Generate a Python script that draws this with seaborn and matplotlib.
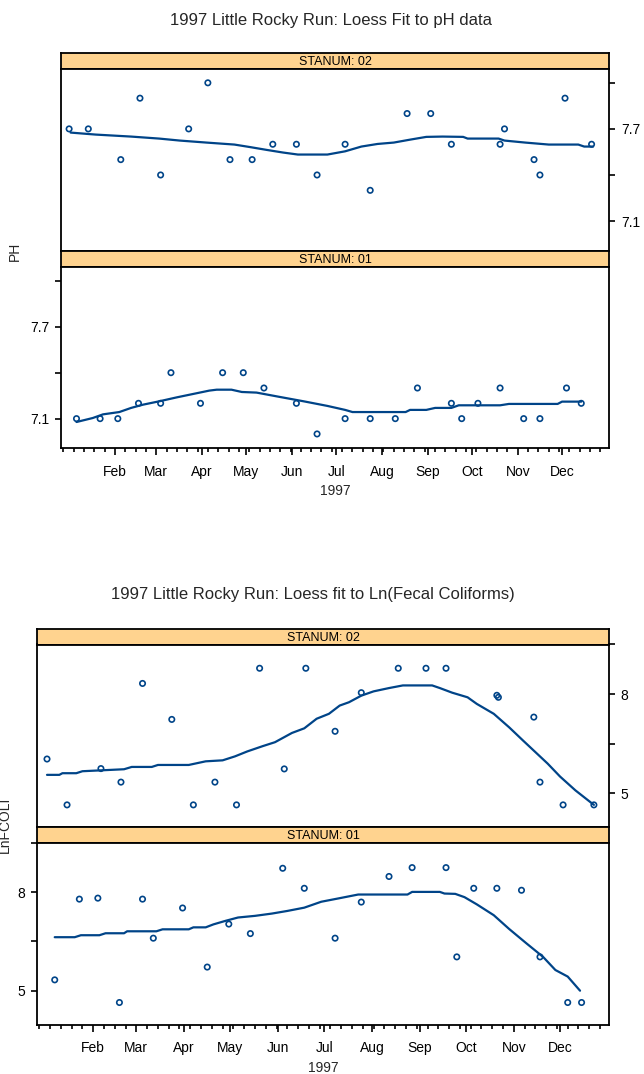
import numpy as np
import pandas as pd
import matplotlib
matplotlib.use("Agg")
import matplotlib.pyplot as plt
import matplotlib.dates as mdates
import seaborn as sns

# ---------------- data (day of year 1997, 0 = Jan 1) ----------------
ph02_day = [0, 13, 35, 48, 62, 81, 94, 109, 124, 138, 154, 168, 187, 204, 229, 245, 259, 292, 295, 315, 319, 336, 354]
ph02_val = [7.7, 7.7, 7.5, 7.9, 7.4, 7.7, 8.0, 7.5, 7.5, 7.6, 7.6, 7.4, 7.6, 7.3, 7.8, 7.8, 7.6, 7.6, 7.7, 7.5, 7.4, 7.9, 7.6]
ph02_fit_day = [1, 18, 42, 61, 75, 93, 112, 123, 134, 145, 155, 175, 187, 198, 209, 220, 231, 242, 253, 267, 270, 291, 295, 309, 325, 345, 349, 355]
ph02_fit_val = [7.676, 7.663, 7.650, 7.637, 7.624, 7.611, 7.598, 7.581, 7.563, 7.546, 7.533, 7.533, 7.554, 7.585, 7.602,
                7.611, 7.630, 7.648, 7.650, 7.648, 7.637, 7.637, 7.624, 7.611, 7.598, 7.598, 7.585, 7.585]

ph01_day = [5, 21, 33, 47, 62, 69, 89, 104, 118, 132, 154, 168, 187, 204, 221, 236, 259, 266, 277, 292, 308, 319, 337, 347]
ph01_val = [7.1, 7.1, 7.1, 7.2, 7.2, 7.4, 7.2, 7.4, 7.4, 7.3, 7.2, 7.0, 7.1, 7.1, 7.1, 7.3, 7.2, 7.1, 7.2, 7.3, 7.1, 7.1, 7.3, 7.2]
ph01_fit_day = [5, 16, 23, 34, 42, 50, 61, 73, 84, 95, 100, 110, 117, 127, 142, 159, 175, 187, 192, 228, 231, 242, 248,
                259, 264, 292, 298, 331, 334, 347]
ph01_fit_val = [7.078, 7.104, 7.128, 7.143, 7.170, 7.191, 7.213, 7.239, 7.261, 7.283, 7.289, 7.289, 7.274, 7.270, 7.243,
                7.213, 7.183, 7.157, 7.143, 7.143, 7.157, 7.157, 7.170, 7.170, 7.187, 7.187, 7.196, 7.196, 7.211, 7.211]

fc02_day = [1, 14, 36, 49, 63, 82, 96, 110, 124, 139, 155, 169, 188, 205, 229, 247, 260, 293, 294, 317, 321, 336, 356]
fc02_val = [6.03, 4.64, 5.74, 5.33, 8.32, 7.23, 4.64, 5.33, 4.64, 8.78, 5.73, 8.78, 6.87, 8.04, 8.78, 8.78, 8.78,
            7.96, 7.90, 7.30, 5.33, 4.64, 4.64]
fc02_fit_day = [1, 9, 11, 20, 24, 51, 56, 69, 73, 93, 104, 115, 123, 131, 141, 149, 160, 168, 176, 184, 191, 197, 205,
                213, 223, 232, 251, 256, 264, 274, 280, 291, 301, 310, 318, 326, 334, 344, 356]
fc02_fit_val = [5.55, 5.55, 5.60, 5.60, 5.66, 5.72, 5.79, 5.79, 5.85, 5.85, 5.96, 5.99, 6.11, 6.26, 6.42, 6.54, 6.82,
                6.96, 7.25, 7.40, 7.65, 7.75, 7.95, 8.08, 8.18, 8.26, 8.26, 8.18, 8.04, 7.90, 7.70, 7.40, 6.99, 6.59,
                6.24, 5.89, 5.50, 5.08, 4.64]

fc01_day = [6, 22, 34, 48, 63, 70, 89, 105, 119, 133, 154, 168, 188, 205, 223, 238, 260, 267, 278, 293, 309, 321, 339, 348]
fc01_val = [5.33, 7.79, 7.82, 4.64, 7.79, 6.60, 7.52, 5.72, 7.03, 6.74, 8.73, 8.12, 6.60, 7.70, 8.48, 8.75, 8.75,
            6.03, 8.12, 8.12, 8.06, 6.03, 4.64, 4.64]
fc01_fit_day = [6, 19, 23, 35, 39, 51, 53, 72, 76, 93, 96, 104, 109, 117, 125, 136, 147, 157, 168, 179, 190, 203, 235,
                238, 256, 259, 266, 272, 280, 291, 301, 312, 323, 331, 339, 347]
fc01_fit_val = [6.63, 6.63, 6.69, 6.69, 6.75, 6.75, 6.81, 6.81, 6.87, 6.87, 6.93, 6.93, 7.02, 7.13, 7.23, 7.28, 7.35,
                7.43, 7.53, 7.71, 7.81, 7.93, 7.93, 8.01, 8.01, 7.96, 7.95, 7.85, 7.63, 7.30, 6.88, 6.45, 6.03, 5.63,
                5.43, 5.00]

strip_labels = ["STANUM: 02", "STANUM: 01"]
titles = ["1997 Little Rocky Run: Loess Fit to pH data",
          "1997 Little Rocky Run: Loess fit to Ln(Fecal Coliforms)"]
ylabels = ["PH", "LnFCOLI"]
ph_ticks = [7.1, 7.4, 7.7, 8.0]
ph_ticklabels = ["7.1", "", "7.7", ""]
fc_ticks = [5.0, 6.5, 8.0, 9.5]
fc_ticklabels = ["5", "", "8", ""]

# ---------------- style ----------------
sns.set_theme(style="ticks")
plt.rcParams["font.family"] = ["Liberation Sans", "DejaVu Sans"]
BLUE = "#004488"
STRIP = "#FFD38F"
BASE = pd.Timestamp("1997-01-01")


def to_date(days):
    return BASE + pd.to_timedelta(np.asarray(days, dtype=float), unit="D")


W, H = 644, 1074
fig = plt.figure(figsize=(W / 100, H / 100), dpi=100)


def ax_px(x0, y0, x1, y1):
    return fig.add_axes([x0 / W, 1 - y1 / H, (x1 - x0) / W, (y1 - y0) / H])


XLIM = (to_date([-5.5])[0], to_date([365.8])[0])


def frame(ax):
    for s in ax.spines.values():
        s.set_visible(True)
        s.set_color("black")
        s.set_linewidth(1.3)


def strip(x0, y0, x1, y1, label):
    ax = ax_px(x0, y0, x1, y1)
    ax.set_facecolor(STRIP)
    ax.set_xticks([])
    ax.set_yticks([])
    frame(ax)
    ax.text(0.5, 0.45, label, ha="center", va="center", fontsize=9,
            transform=ax.transAxes, color="black")
    return ax


def panel(x0, y0, x1, y1, days, vals, fdays, fvals, ylim, yticks, yticklabels, side, show_x):
    ax = ax_px(x0, y0, x1, y1)
    dfp = pd.DataFrame({"date": to_date(days), "value": vals})
    dff = pd.DataFrame({"date": to_date(fdays), "value": fvals})
    sns.lineplot(data=dff, x="date", y="value", ax=ax, color=BLUE, lw=1.6,
                 estimator=None, sort=False, legend=False)
    sns.scatterplot(data=dfp, x="date", y="value", ax=ax, marker="o", s=15,
                    color=BLUE, linewidth=1.2, legend=False, zorder=3)
    coll = ax.collections[-1]
    coll.set_facecolor("none")
    coll.set_edgecolor(BLUE)
    ax.set_xlim(*XLIM)
    ax.set_ylim(*ylim)
    ax.set_xlabel("")
    ax.set_ylabel("")
    frame(ax)
    ax.set_yticks(yticks)
    ax.set_yticklabels(yticklabels)
    if side == "right":
        ax.tick_params(axis="y", left=False, labelleft=False, right=True, labelright=True)
    else:
        ax.tick_params(axis="y", left=True, labelleft=True, right=False, labelright=False)
    ax.tick_params(axis="y", direction="out", length=4.5, width=1.2, pad=4,
                   labelsize=10, colors="black")
    if show_x:
        ax.xaxis.set_major_locator(mdates.MonthLocator(bymonth=range(2, 13)))
        ax.xaxis.set_major_formatter(mdates.DateFormatter("%b"))
        ax.xaxis.set_minor_locator(mdates.WeekdayLocator(byweekday=mdates.SA))
        ax.tick_params(axis="x", which="major", direction="out", length=5, width=1.2,
                       pad=7, labelsize=10, colors="black", bottom=True, top=False)
        ax.tick_params(axis="x", which="minor", direction="out", length=2.8, width=1.2,
                       bottom=True, top=False, colors="black")
    else:
        ax.set_xticks([])
    return ax


# ---------------- top chart: pH ----------------
L1, R1 = 61, 609
strip(L1, 53, R1, 69, strip_labels[0])
panel(L1, 69, R1, 251, ph02_day, ph02_val, ph02_fit_day, ph02_fit_val,
      (6.905, 8.09), ph_ticks, ph_ticklabels, "right", False)
strip(L1, 251, R1, 267, strip_labels[1])
panel(L1, 267, R1, 448.5, ph01_day, ph01_val, ph01_fit_day, ph01_fit_val,
      (6.905, 8.09), ph_ticks, ph_ticklabels, "left", True)

fig.text(331 / W, 1 - 20 / H, titles[0], ha="center", va="center", fontsize=12)
fig.text(15 / W, 1 - 251 / H, ylabels[0], ha="center", va="center", rotation=90, fontsize=10)
fig.text(335 / W, 1 - 491 / H, "1997", ha="center", va="center", fontsize=10)

# ---------------- bottom chart: Ln fecal coliforms ----------------
L2, R2 = 37, 609
strip(L2, 629, R2, 644.5, strip_labels[0])
panel(L2, 644.5, R2, 827, fc02_day, fc02_val, fc02_fit_day, fc02_fit_val,
      (3.97, 9.48), fc_ticks, fc_ticklabels, "right", False)
strip(L2, 827, R2, 843, strip_labels[1])
panel(L2, 843, R2, 1024.5, fc01_day, fc01_val, fc01_fit_day, fc01_fit_val,
      (3.97, 9.48), fc_ticks, fc_ticklabels, "left", True)

fig.text(313 / W, 1 - 595 / H, titles[1], ha="center", va="center", fontsize=12)
fig.text(5 / W, 1 - 825 / H, ylabels[1], ha="center", va="center", rotation=90, fontsize=10)
fig.text(323 / W, 1 - 1068 / H, "1997", ha="center", va="center", fontsize=10)

fig.savefig("out.png", dpi=100)
